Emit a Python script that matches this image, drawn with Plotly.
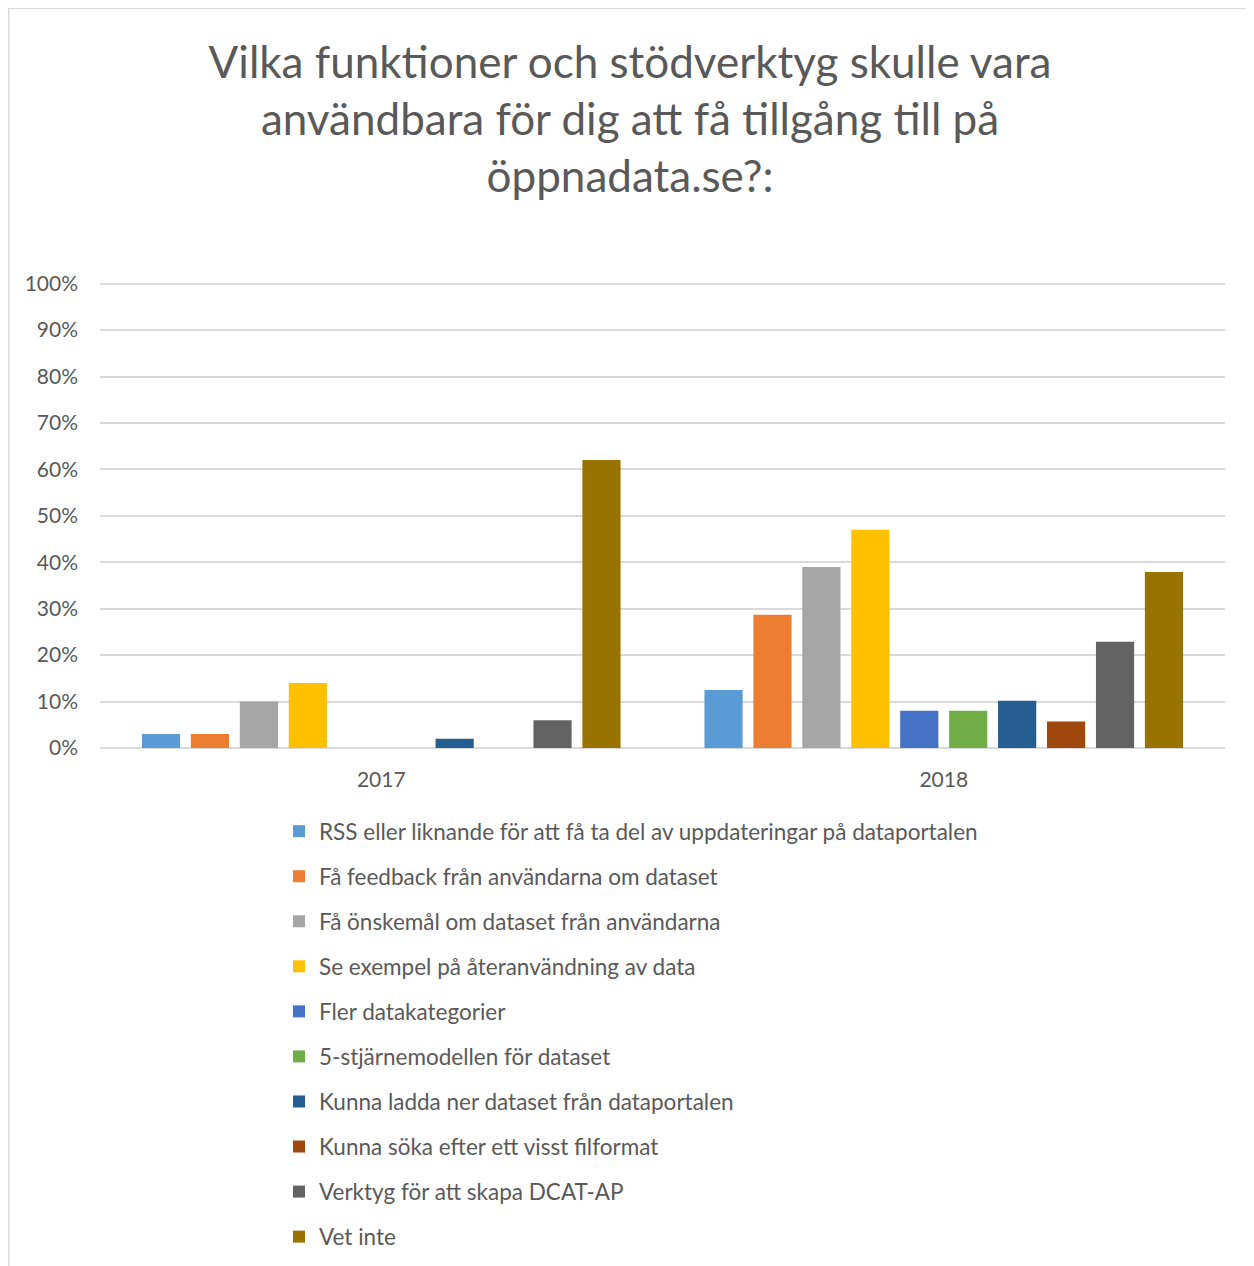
import plotly.graph_objects as go

categories = ["2017", "2018"]
series_names = [
    "RSS eller liknande för att få ta del av uppdateringar på dataportalen",
    "Få feedback från användarna om dataset",
    "Få önskemål om dataset från användarna",
    "Se exempel på återanvändning av data",
    "Fler datakategorier",
    "5-stjärnemodellen för dataset",
    "Kunna ladda ner dataset från dataportalen",
    "Kunna söka efter ett visst filformat",
    "Verktyg för att skapa DCAT-AP",
    "Vet inte",
]
values_2017 = [3, 3, 10, 14, 0, 0, 2, 0, 6, 62]
values_2018 = [12.5, 28.7, 39, 47, 8, 8, 10.2, 5.7, 22.9, 37.9]
colors = ["#5B9BD5", "#ED7D31", "#A5A5A5", "#FFC000", "#4472C4",
          "#70AD47", "#255E91", "#9E480E", "#636363", "#997300"]
y_ticks = [0, 10, 20, 30, 40, 50, 60, 70, 80, 90, 100]
y_tick_labels = [f"{v}%" for v in y_ticks]

# figure coordinates (page has an 8px body margin)
W, H = 1246, 1258
px_per_unit = 4.64
L, R = 92, 29
zero_px = 740
T = zero_px - 101 * px_per_unit
B = H - zero_px
pw, ph = W - L - R, H - T - B

def px_x(p):
    return (p - L) / pw

def px_y(p):
    return (zero_px - p) / ph

fig = go.Figure()
for i, name in enumerate(series_names):
    fig.add_trace(go.Bar(
        x=categories,
        y=[values_2017[i], values_2018[i]],
        name=name,
        marker=dict(color=colors[i], line=dict(width=0)),
        legendgroup=f"g{i}",
    ))

font_family = "Lato, 'Open Sans', sans-serif"
fig.update_layout(
    width=W, height=H,
    margin=dict(l=L, r=R, t=T, b=B, autoexpand=False),
    paper_bgcolor="white", plot_bgcolor="white",
    barmode="group", bargap=0.13, bargroupgap=0.22,
    font=dict(family=font_family, color="#595959", size=21),
    title=dict(
        text="Vilka funktioner och stödverktyg skulle vara<br>användbara för dig att få tillgång till på<br>öppnadata.se?:",
        x=622 / W, xanchor="center", xref="container",
        y=1 - 70 / H, yanchor="middle", yref="container",
        font=dict(size=44, color="#595959", family=font_family),
    ),
    xaxis=dict(showgrid=False, showline=False, ticks="", tickfont=dict(size=21),
               ticklabelstandoff=17),
    yaxis=dict(range=[0, 101], tickvals=y_ticks, ticktext=y_tick_labels,
               showgrid=True, gridcolor="#D9D9D9", gridwidth=2, zeroline=True,
               zerolinecolor="#D9D9D9", zerolinewidth=2, showline=False,
               tickfont=dict(size=21), ticklabelstandoff=21),
    legend=dict(
        orientation="v", x=px_x(271), xanchor="left", y=px_y(802), yanchor="top",
        font=dict(size=22.5, color="#595959"), tracegroupgap=12.8,
        itemwidth=30, bgcolor="rgba(0,0,0,0)",
    ),
    showlegend=True,
)
fig.add_shape(type="rect", xref="paper", yref="paper",
              x0=px_x(0.75), x1=px_x(1245), y0=px_y(1290), y1=px_y(0.75),
              line=dict(color="#D9D9D9", width=1.5), fillcolor="rgba(0,0,0,0)",
              layer="below")

fig.write_html("out.html")
